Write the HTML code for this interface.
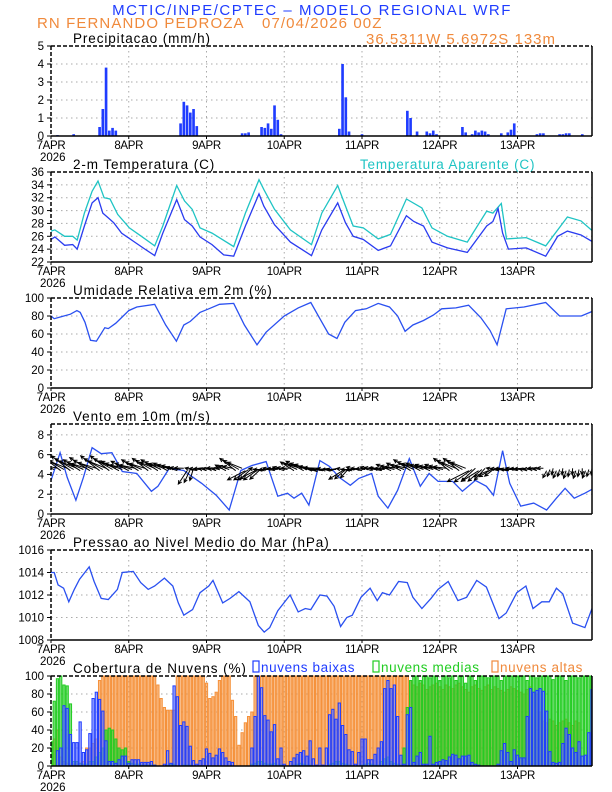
<!DOCTYPE html>
<html><head><meta charset="utf-8"><style>
html,body{margin:0;padding:0;background:#fff}
svg{display:block}
text{font-family:"Liberation Sans",sans-serif}
</style></head><body>
<svg id="chart" width="612" height="792" viewBox="0 0 612 792">
<defs><clipPath id="plotclip"><rect x="51" y="0" width="541" height="792"/></clipPath></defs>
<text x="312" y="15" text-anchor="middle" font-size="15" fill="#1f3cff" letter-spacing="1.5">MCTIC/INPE/CPTEC – MODELO REGIONAL WRF</text>
<text x="37" y="28" font-size="15" fill="#f08a3c" letter-spacing="1.1">RN FERNANDO PEDROZA</text>
<text x="262" y="28" font-size="15" fill="#f08a3c" letter-spacing="1.1">07/04/2026 00Z</text>
<text x="366" y="44" font-size="15" fill="#f08a3c" letter-spacing="1.0">36.5311W 5.6972S 133m</text>
<g id="layer"></g>
</svg>
<script>
// ---------- data ----------
const dayLabels = ["7APR","8APR","9APR","10APR","11APR","12APR","13APR"];
const precipHours = [2,7,15,16,17,18,19,20,40,41,42,43,44,45,59,60,61,65,66,67,68,69,70,71,89,90,91,92,96,110,111,113,116,117,118,119,127,128,130,131,132,133,134,135,139,141,142,143,150,151,152,157,158,159,160,164];
const precipVals = [0.05,0.1,0.5,1.5,3.8,0.3,0.45,0.3,0.7,1.9,1.7,1.3,1.5,0.55,0.15,0.15,0.2,0.5,0.45,0.7,0.4,1.7,0.9,0.1,0.4,4.0,2.15,0.25,0.1,1.4,1.0,0.25,0.25,0.15,0.3,0.1,0.5,0.2,0.1,0.3,0.2,0.3,0.25,0.1,0.15,0.2,0.35,0.7,0.1,0.15,0.15,0.1,0.1,0.15,0.15,0.1];
const tempHours = [0,1.2,4.2,6.7,8.1,10.3,12.7,14.5,16,17.6,19.4,21.8,25.5,29,32,34.5,38.8,41.2,43.6,46,49.7,53.3,56.4,60,64.2,65.7,69,73.9,80.4,83.6,88.5,90.9,93.3,96.4,101,104.8,109.7,112,115,117.6,122.4,128.5,134.5,136.4,138,139.4,141.2,146.7,152.7,156.4,159.4,163.6,167];
const tempVals = [25.5,25.9,24.6,24.7,24.0,27.6,31.2,32.0,29.6,28.9,28.1,26.5,25.2,24.0,23.0,26.5,31.7,28.6,27.6,25.9,24.7,23.1,22.9,27.6,32.6,30.7,27.8,25.1,23.0,27.0,31.2,28.1,26.0,25.5,23.8,24.5,29.2,28.3,27.6,25.1,24.2,23.5,27.6,28.3,30.3,26.5,24.0,24.2,22.9,26.0,26.8,26.2,25.2];
const appHours = [0,1.2,4.2,6.7,8.1,10.3,12.7,14.5,16.4,18.2,20.6,24.2,27.9,32,34.5,38.8,41.2,43.6,46,49.7,56.4,60,64.2,65.7,69,73.9,80.4,83.6,88.5,90.9,93.3,96.4,101,104.8,109.7,114.5,117.6,122.4,128.5,134.5,136.4,139,140.6,146.7,152.7,159.4,163.6,167];
const appVals = [26.8,27.0,26.0,26.0,25.4,29.6,33.0,34.6,32.0,31.8,29.4,27.3,26.0,24.5,27.6,33.9,31.5,30.2,27.3,26.5,24.4,29.6,34.8,33.3,30.2,27.0,24.7,29.6,33.9,30.7,27.6,27.3,25.6,26.3,31.8,30.4,27.3,26.0,25.1,29.9,29.6,31.1,25.6,25.8,24.5,29.0,28.4,26.9];
const rhHours = [0,1,3,6,8,9,10.5,12.2,14,16.6,17.7,20,24,26.5,32,35.4,38.7,41,43,46,48.7,52,56.4,59.7,63.6,66.4,72,76.3,80.2,83,85.7,88.3,90.7,94,97.3,101,104.5,107,109.3,111.7,115,118,120.6,125,128.9,132.7,135.5,137.7,140.5,146,152.7,157,160.4,163.7,167];
const rhVals = [80,77,79,82,86,84,73,53,52,67,66,72,86,90,93,70,52,70,74,84,88,93,94,70,48,62,80,89,95,77,60,55,73,86,88,94,90,80,63,70,75,81,88,89,92,78,64,48,88,90,95,80,80,80,85];
const windHours = [0,2.8,5,7.7,10,12.7,15.5,18.8,22,26.5,31,33,36.5,41,43,46.5,51,55,58.6,62,66.4,70,73,75,77.4,79.6,83,86,89,92.4,95,99,101,104,107,110.6,114,116.7,119.5,124,127,131,134.4,136.6,139.4,141.6,145,149,153,156,158.7,161.5,164.8,167];
const windVals = [3.4,6.2,3.7,1.4,3.7,6.7,6.1,6.2,4.3,4.1,2.3,2.8,4.6,4.4,3.9,3.1,1.9,0.4,4.4,4.9,5.3,1.8,2.1,1.6,2.1,0.9,5.4,4.8,3.7,2.9,3.6,4.1,1.8,0.6,2.4,5.6,2.8,4.1,3.3,3.3,2.3,3.4,2.8,1.9,6.4,3.1,0.8,1.1,0.4,1.6,2.6,1.6,2.1,2.5];
const arrowHours = [0,3,6,9,12,15,18,21,24,27,30,33,36,39,42,45,48,51,54,57,60,63,66,69,72,75,78,81,84,87,90,93,96,99,102,105,108,111,114,117,120,123,126,129,132,135,138,141,144,147,150,153,156,159,162,165];
const arrowDir = [160,150,150,155,155,150,150,160,160,155,150,155,160,170,245,175,170,170,160,150,215,215,180,175,170,155,160,170,180,180,220,180,175,170,175,165,160,155,160,165,165,150,150,215,220,210,175,180,175,175,170,250,255,260,260,255];
const arrowSpd = [4,6,6,5,6,6,6,5,5,5,5,5,4,3,4,3,2,2,3,5,5,5,4,3,3,4,5,5,5,4,4,4,4,3,3,4,4,5,4,4,4,5,5,6,5,4,3,3,3,2,2,2,2,2,2,2];
const presHours = [0,1,2.2,3.9,5.5,7.2,8.8,11.8,13.3,15.5,17.7,20.5,22,25.4,27.7,30,32,35,37.6,39.3,41,43.7,46,48.7,50,53,55.3,58,61.4,64,65.8,67.5,70,73.8,76.3,78.5,80.2,83,85.2,87.4,89.4,91.3,93,95.7,98.5,100.7,102.3,104.5,107.3,110,111.7,114.5,117.3,119.5,122.6,125.6,128.3,131.4,134.4,138.3,140.5,143.8,146.6,148.8,151.5,153.8,156,158,161,164.8,167];
const presVals = [1014.0,1014.0,1012.9,1012.6,1011.4,1012.5,1013.4,1014.5,1013.2,1011.7,1011.6,1012.5,1014.0,1014.1,1013.1,1012.5,1012.8,1013.5,1012.8,1011.3,1010.2,1010.7,1012.2,1012.8,1013.3,1011.3,1011.7,1012.3,1011.4,1009.3,1008.7,1009.1,1010.6,1012.0,1010.5,1010.8,1010.7,1012.0,1011.9,1011.0,1009.2,1010.0,1010.2,1011.8,1012.6,1011.5,1012.2,1012.0,1013.2,1013.1,1011.8,1010.8,1011.7,1012.5,1013.2,1011.5,1011.8,1013.3,1012.7,1009.9,1010.4,1012.2,1012.8,1010.8,1011.4,1011.4,1012.6,1012.1,1009.5,1009.1,1010.8];
const cloudLow = [0,0,17,20,67,64,35,26,26,49,15,18,36,75,82,74,61,28,5,5,3,7,11,11,3,7,7,7,4,4,4,5,1,0,0,2,17,3,89,77,45,49,44,22,6,2,6,8,19,14,9,12,19,15,9,5,4,0,0,0,0,0,20,55,100,87,56,51,38,46,8,20,2,0,5,9,13,15,17,11,28,8,1,20,1,20,57,63,52,70,45,35,18,16,2,15,30,30,7,7,13,20,27,86,95,86,90,55,12,2,57,65,4,11,15,2,2,33,2,4,5,7,6,10,13,12,8,11,11,12,4,2,1,0,0,0,0,0,2,17,25,15,5,18,12,9,9,55,86,82,84,86,83,61,16,4,3,4,25,42,35,20,15,27,11,12,37,85];
const cloudMid = [27,72,97,100,90,89,69,5,5,3,2,2,5,5,10,15,20,40,42,40,30,20,18,20,5,3,2,2,1,1,1,1,1,0,0,0,1,2,2,0,0,1,1,1,0,0,0,0,0,0,0,0,0,0,0,0,0,0,0,0,0,0,2,3,5,5,3,2,2,3,1,1,0,0,0,1,2,3,2,1,1,0,0,0,0,0,2,3,5,5,3,2,1,0,0,0,1,2,3,2,1,1,5,8,10,5,3,2,1,20,65,95,100,100,95,100,100,98,100,100,95,100,100,98,100,95,100,100,92,100,100,95,100,100,100,98,100,100,100,95,100,100,100,100,100,100,100,95,100,100,98,100,100,100,100,96,100,100,100,95,100,100,100,98,100,100,100,100];
const cloudHigh = [0,30,40,10,5,3,2,2,2,3,5,20,20,25,30,95,100,100,100,100,100,100,100,100,100,100,100,100,100,100,100,100,100,90,75,65,62,62,62,100,100,100,100,100,100,100,100,100,92,75,77,82,95,100,100,100,73,55,23,37,48,55,60,100,100,100,100,100,100,100,100,100,100,100,100,100,100,100,100,100,100,100,100,100,100,100,100,100,100,100,100,100,100,100,100,100,100,100,100,100,100,100,100,100,100,100,100,100,100,100,100,95,90,88,92,90,85,88,90,92,88,85,90,88,86,90,92,88,85,82,88,90,86,84,88,90,85,88,86,84,82,85,88,86,84,82,80,85,88,82,80,60,50,48,52,50,45,48,50,52,48,45,50,48];
const precipTicks = [0,1,2,3,4,5];
const tempTicks = [22,24,26,28,30,32,34,36];
const rhTicks = [0,20,40,60,80,100];
const windTicks = [0,2,4,6,8];
const presTicks = [1008,1010,1012,1014,1016];
const cloudTicks = [0,20,40,60,80,100];

// ---------- drawing ----------
const NS = "http://www.w3.org/2000/svg";
const layer = document.getElementById("layer");
const X0 = 51, X1 = 592, HMAX = 167;
function xs(h){ return X0 + h*(X1-X0)/HMAX; }
function mk(tag, attrs, parent){
  const e = document.createElementNS(NS, tag);
  for (const k in attrs) e.setAttribute(k, attrs[k]);
  (parent||layer).appendChild(e);
  return e;
}
function panel(name, top, ymin, ymax, ticks, title, titleColor){
  const bot = top + 90;
  const g = mk("g", {});
  
  
  const ys = v => bot - (v - ymin) * (bot - top) / (ymax - ymin);
  for (let d = 1; d < 7; d++){
    const l = mk("line", {x1: xs(d*24), x2: xs(d*24), y1: top, y2: bot, stroke: "#aaa", "stroke-dasharray": "1.5,3.5", "stroke-width": 1}, g);
    
    
  }
  ticks.forEach(t => {
    if (t === ymin || t >= ymax) return;
    const l = mk("line", {x1: X0, x2: X1, y1: ys(t), y2: ys(t), stroke: "#aaa", "stroke-dasharray": "1.5,3.5", "stroke-width": 1}, g);
    
    
  });
  ticks.forEach(t => {
    const tx = mk("text", {x: 44, y: ys(t) + 4, "font-size": 11.5, "text-anchor": "end", fill: "#000"}, g);
    tx.textContent = t;
    
    
    mk("line", {x1: X0 - 4, x2: X0, y1: ys(t), y2: ys(t), stroke: "#000"}, g);
  });
  dayLabels.forEach((lab, i) => {
    const tx = mk("text", {x: xs(i*24), y: bot + 13, "font-size": 11.5, "text-anchor": "middle", fill: "#000", "letter-spacing": "-0.3"}, g);
    tx.textContent = lab;
    
    
    mk("line", {x1: xs(i*24), x2: xs(i*24), y1: bot, y2: bot + 3, stroke: "#000"}, g);
  });
  const yr = mk("text", {x: 40, y: bot + 25, "font-size": 11.5, fill: "#000"}, g);
  yr.textContent = "2026";
  
  
  const ti = mk("text", {x: 73, y: top - 3, "font-size": 13.5, fill: titleColor || "#000", "letter-spacing": "0.9"}, g);
  ti.textContent = title;
  
  
  const plot = mk("g", {"clip-path": "url(#plotclip)"}, g);
  
  
  return {g, plot, ys, top, bot};
}
function frame(p){
  mk("line", {x1: X0, x2: X1, y1: p.top, y2: p.top, stroke: "#000", "stroke-width": 1.5, "stroke-dasharray": "4,2"}, p.g);
  mk("line", {x1: X0, x2: X0, y1: p.top, y2: p.bot, stroke: "#000", "stroke-width": 1.5, "stroke-dasharray": "4,2"}, p.g);
  mk("line", {x1: X1, x2: X1, y1: p.top, y2: p.bot, stroke: "#000", "stroke-width": 1.5}, p.g);
  mk("line", {x1: X0, x2: X1, y1: p.bot, y2: p.bot, stroke: "#000", "stroke-width": 1.5}, p.g);
}
function line(p, hours, vals, color, name){
  const d = hours.map((h, i) => (i ? "L" : "M") + xs(h).toFixed(1) + "," + p.ys(vals[i]).toFixed(1)).join(" ");
  const path = mk("path", {d, fill: "none", stroke: color, "stroke-width": 1.3}, p.plot);
  
  
}
const hourW = (X1 - X0) / HMAX;

const P1 = panel("precipitation", 46, 0, 5, precipTicks, "Precipitacao (mm/h)");
precipHours.forEach((h, i) => {
  const y = P1.ys(precipVals[i]);
  const r = mk("rect", {x: xs(h) - hourW/2 + 0.3, y, width: hourW - 0.6, height: P1.bot - y, fill: "#1f3cff"}, P1.plot);
  
  
});
frame(P1);

const P2 = panel("temperature", 172, 22, 36, tempTicks, "2-m Temperatura (C)");
const at = mk("text", {x: 360, y: 169, "font-size": 13.5, fill: "#1fc4c4", "letter-spacing": "0.8"}, P2.g);
at.textContent = "Temperatura Aparente (C)";


line(P2, appHours, appVals, "#1fc4c4", "apparent-temperature-line");
line(P2, tempHours, tempVals, "#2a3cf0", "temperature-line");
frame(P2);

const P3 = panel("humidity", 298, 0, 100, rhTicks, "Umidade Relativa em 2m (%)");
line(P3, rhHours, rhVals, "#2a50f0", "humidity-line");
frame(P3);

const P4 = panel("wind", 424, 0, 9.1, windTicks, "Vento em 10m (m/s)");
line(P4, windHours, windVals, "#2a50f0", "wind-speed-line");
arrowHours.forEach((h, i) => {
  for (let k = 0; k < 3; k++){
    const hh = h + k;
    if (hh > HMAX) continue;
    const x0 = xs(hh), y0 = P4.ys(4.5 + (k - 1) * 0.12);
    const a = (arrowDir[i] + (k - 1) * 8) * Math.PI / 180, L = arrowSpd[i] * 4 * (1 - 0.1 * k);
    const x1 = x0 + L*Math.cos(a), y1 = y0 - L*Math.sin(a);
    const h1 = a + Math.PI - 0.45, h2 = a + Math.PI + 0.45;
    const d = `M${x0.toFixed(1)},${y0.toFixed(1)} L${x1.toFixed(1)},${y1.toFixed(1)} M${(x1+4*Math.cos(h1)).toFixed(1)},${(y1-4*Math.sin(h1)).toFixed(1)} L${x1.toFixed(1)},${y1.toFixed(1)} L${(x1+4*Math.cos(h2)).toFixed(1)},${(y1-4*Math.sin(h2)).toFixed(1)}`;
    const ar = mk("path", {d, fill: "none", stroke: "#000", "stroke-width": 1}, P4.plot);
    
    
  }
});
frame(P4);

const P5 = panel("pressure", 550, 1008, 1016, presTicks, "Pressao ao Nivel Medio do Mar (hPa)");
line(P5, presHours, presVals, "#2a50f0", "pressure-line");
frame(P5);

const P6 = panel("clouds", 676, 0, 100, cloudTicks, "Cobertura de Nuvens (%)");
const legends = [["nuvens baixas", "#1f3cff", 252], ["nuvens medias", "#22cc22", 372], ["nuvens altas", "#f08a3c", 491]];
legends.forEach(([lab, col, x]) => {
  const lg = mk("g", {}, P6.g);
  
  
  mk("rect", {x: x + 1, y: 661, width: 6, height: 11, fill: "none", stroke: col, "stroke-width": 1.2}, lg);
  const t = mk("text", {x: x + 9, y: 672, "font-size": 13.5, fill: col, "letter-spacing": "0.6"}, lg);
  t.textContent = lab;
});
function bars(vals, fill, stroke, name){
  vals.forEach((v, h) => {
    if (v <= 0 || h > HMAX) return;
    const y = P6.ys(v);
    const r = mk("rect", {x: xs(h) - hourW/2 + 0.5, y, width: hourW - 1, height: P6.bot - y, fill, "fill-opacity": 0.6, stroke, "stroke-width": 1}, P6.plot);
    
    
  });
}
bars(cloudHigh, "#f5913a", "#f5913a", "high-cloud-bar");
bars(cloudMid, "#22cc22", "#22cc22", "mid-cloud-bar");
bars(cloudLow, "#6f7fff", "#1f3cff", "low-cloud-bar");
frame(P6);
</script>
</body></html>
